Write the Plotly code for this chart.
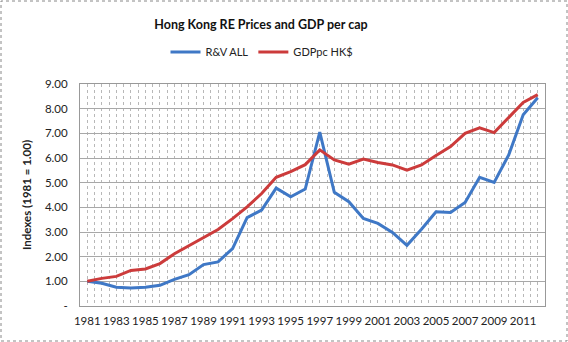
import plotly.graph_objects as go

years = list(range(1981, 2013))
rv_all = [1.00, 0.92, 0.76, 0.73, 0.76, 0.84, 1.08, 1.27, 1.68, 1.79, 2.33, 3.58, 3.89, 4.78,
          4.43, 4.74, 7.05, 4.61, 4.23, 3.55, 3.35, 2.98, 2.46, 3.11, 3.82, 3.79, 4.20, 5.22,
          5.01, 6.12, 7.75, 8.44]
gdppc = [1.00, 1.12, 1.20, 1.44, 1.50, 1.72, 2.12, 2.45, 2.80, 3.10, 3.54, 4.02, 4.56, 5.22,
         5.45, 5.73, 6.33, 5.92, 5.75, 5.96, 5.82, 5.72, 5.51, 5.72, 6.10, 6.46, 7.00, 7.22,
         7.03, 7.64, 8.25, 8.57]
ytick_vals = [0, 1, 2, 3, 4, 5, 6, 7, 8, 9]
ytick_text = ["-", "1.00", "2.00", "3.00", "4.00", "5.00", "6.00", "7.00", "8.00", "9.00"]
xtick_vals = list(range(1981, 2012, 2))

W, H = 568, 342
ML, MR, MT, MB = 80, 23, 84, 36
pw, ph = W - ML - MR, H - MT - MB

fig = go.Figure()
fig.add_trace(go.Scatter(x=years, y=rv_all, mode="lines", name="R&V ALL",
                         line=dict(color="#3F78C6", width=3)))
fig.add_trace(go.Scatter(x=years, y=gdppc, mode="lines", name="GDPpc HK$",
                         line=dict(color="#CC3B3B", width=3)))

font = "Lato, Open Sans, sans-serif"
fig.update_layout(
    width=W, height=H,
    margin=dict(l=ML, r=MR, t=MT, b=MB, pad=0),
    paper_bgcolor="white", plot_bgcolor="white",
    font=dict(family=font, size=11, color="#222"),
    title=dict(text="<b>Hong Kong RE Prices and GDP per cap</b>", x=261 / W, xanchor="center",
               y=1 - 25 / H, yanchor="middle", font=dict(size=12.5, color="#111")),
    showlegend=True,
    legend=dict(orientation="h", x=(262 - ML) / pw, xanchor="center", y=1 + (MT - 52) / ph,
                yanchor="middle", font=dict(size=11), bgcolor="rgba(0,0,0,0)",
                itemwidth=30, tracegroupgap=0),
    xaxis=dict(range=[1980.5, 2012.5], tickvals=xtick_vals, ticktext=[str(v) for v in xtick_vals],
               showgrid=False, showline=True, linecolor="#999", linewidth=1, mirror=True,
               ticks="", ticklabelstandoff=4, tickangle=0, zeroline=False, tickfont=dict(size=11.5),
               minor=dict(tick0=1980.5, dtick=0.5, showgrid=True, gridcolor="#b8b8b8",
                          griddash="dot", gridwidth=1)),
    yaxis=dict(range=[0, 9], tickvals=ytick_vals, ticktext=ytick_text, showgrid=True,
               gridcolor="#a8a8a8", gridwidth=1, showline=True, linecolor="#999", linewidth=1,
               mirror=True, ticks="", ticklabelstandoff=9, zeroline=False, tickfont=dict(size=11.5),
               title=dict(text="<b>Indexes (1981 = 1.00)</b>", font=dict(size=11.5), standoff=10)),
)
fig.add_shape(type="rect", xref="paper", yref="paper",
              x0=(1 - ML) / pw, x1=(W - 1 - ML) / pw, y0=-(MB - 1) / ph, y1=1 + (MT - 1) / ph,
              line=dict(color="#888", width=1, dash="dot"), layer="below")
fig.write_html("out.html")
